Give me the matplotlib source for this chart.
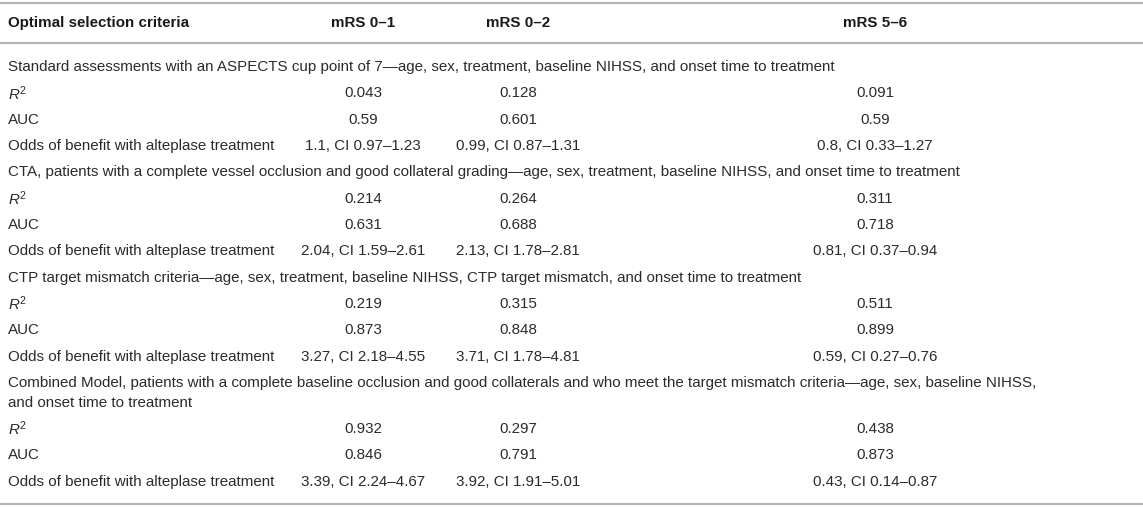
import matplotlib
matplotlib.use("Agg")
import matplotlib.pyplot as plt

plt.rcParams['font.family'] = ['Liberation Sans', 'DejaVu Sans']
plt.rcParams['mathtext.fontset'] = 'custom'
plt.rcParams['mathtext.rm'] = 'Liberation Sans'
plt.rcParams['mathtext.it'] = 'Liberation Sans:italic'

# --------------------------------------------
#           table data
# --------------------------------------------
header = ["Optimal selection criteria", "mRS 0\u20131", "mRS 0\u20132", "mRS 5\u20136"]

groups = [
    ["Standard assessments with an ASPECTS cup point of 7\u2014age, sex, treatment, baseline NIHSS, and onset time to treatment"],
    ["CTA, patients with a complete vessel occlusion and good collateral grading\u2014age, sex, treatment, baseline NIHSS, and onset time to treatment"],
    ["CTP target mismatch criteria\u2014age, sex, treatment, baseline NIHSS, CTP target mismatch, and onset time to treatment"],
    ["Combined Model, patients with a complete baseline occlusion and good collaterals and who meet the target mismatch criteria\u2014age, sex, baseline NIHSS,",
     "and onset time to treatment"],
]

metrics = ["$R^{\\mathrm{2}}$", "AUC", "Odds of benefit with alteplase treatment"]

r2 = [["0.043", "0.128", "0.091"],
      ["0.214", "0.264", "0.311"],
      ["0.219", "0.315", "0.511"],
      ["0.932", "0.297", "0.438"]]

auc = [["0.59", "0.601", "0.59"],
       ["0.631", "0.688", "0.718"],
       ["0.873", "0.848", "0.899"],
       ["0.846", "0.791", "0.873"]]

odds = [["1.1, CI 0.97\u20131.23", "0.99, CI 0.87\u20131.31", "0.8, CI 0.33\u20131.27"],
        ["2.04, CI 1.59\u20132.61", "2.13, CI 1.78\u20132.81", "0.81, CI 0.37\u20130.94"],
        ["3.27, CI 2.18\u20134.55", "3.71, CI 1.78\u20134.81", "0.59, CI 0.27\u20130.76"],
        ["3.39, CI 2.24\u20134.67", "3.92, CI 1.91\u20135.01", "0.43, CI 0.14\u20130.87"]]

# --------------------------------------------
#           layout (pixels)
# --------------------------------------------
W, H = 1143, 508
col_x = [8, 363, 518, 875]
row_h = 26.35
wrap_h = 19.5
fs = 10.9
txt = '#2b2b2b'
line_c = '#b4b4b4'

fig = plt.figure(figsize=(W / 100, H / 100), dpi=100)
ax = fig.add_axes([0, 0, 1, 1])
ax.set_xlim(0, W)
ax.set_ylim(H, 0)
ax.axis('off')

for yy in [3, 43, 504]:
    ax.plot([0, W], [yy, yy], color=line_c, lw=1.5, solid_capstyle='butt')

# header
ax.text(col_x[0], 23, header[0], fontsize=fs, fontweight='bold', color='#1a1a1a', va='center', ha='left')
for j in range(1, 4):
    ax.text(col_x[j], 23, header[j], fontsize=fs, fontweight='bold', color='#1a1a1a', va='center', ha='center')

y = 67
for g in range(len(groups)):
    for k, line in enumerate(groups[g]):
        if k > 0:
            y += wrap_h
        ax.text(col_x[0], y, line, fontsize=fs, color=txt, va='center', ha='left')
    y += row_h
    for m, vals in enumerate([r2[g], auc[g], odds[g]]):
        ax.text(col_x[0], y, metrics[m], fontsize=fs, color=txt, va='center', ha='left')
        for j in range(3):
            ax.text(col_x[j + 1], y, vals[j], fontsize=fs, color=txt, va='center', ha='center')
        y += row_h

fig.savefig('out.png', dpi=100, facecolor='white')
